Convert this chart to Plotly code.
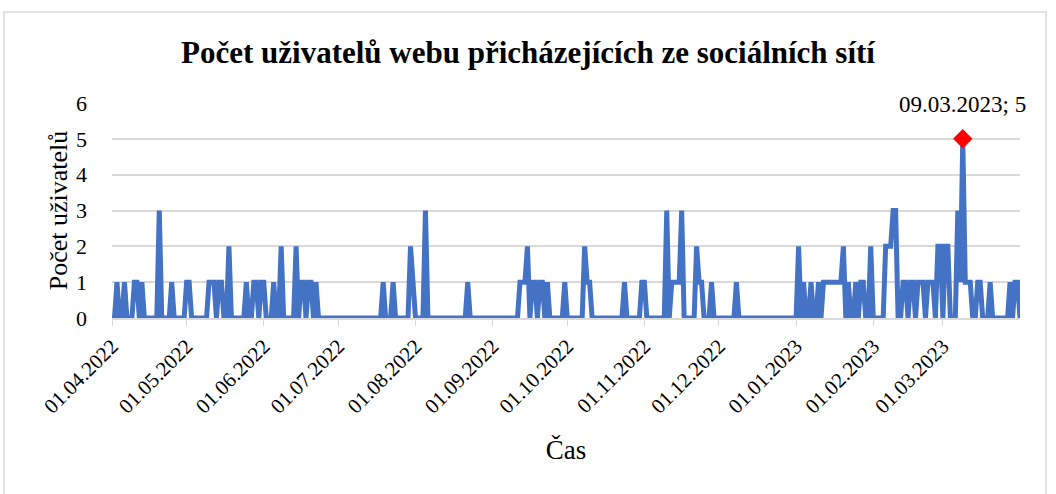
import datetime as dt
import plotly.graph_objects as go

# Non-zero daily values (every other day is 0)
nz_dates = [
    # 2022-04
    "2022-04-03", "2022-04-06", "2022-04-10", "2022-04-11", "2022-04-13", "2022-04-20", "2022-04-25",
    # 2022-05
    "2022-05-01", "2022-05-02", "2022-05-10", "2022-05-11", "2022-05-12", "2022-05-14", "2022-05-15",
    "2022-05-18", "2022-05-25", "2022-05-28", "2022-05-29", "2022-05-31",
    # 2022-06
    "2022-06-01", "2022-06-05", "2022-06-08", "2022-06-14", "2022-06-16", "2022-06-17", "2022-06-19",
    "2022-06-20", "2022-06-22",
    # 2022-07 / 08
    "2022-07-19", "2022-07-23", "2022-07-30", "2022-07-31", "2022-08-05", "2022-08-22",
    # 2022-09
    "2022-09-12", "2022-09-13", "2022-09-14", "2022-09-15", "2022-09-17", "2022-09-18", "2022-09-20",
    "2022-09-21", "2022-09-23", "2022-09-30",
    # 2022-10
    "2022-10-08", "2022-10-09", "2022-10-10", "2022-10-24", "2022-10-31",
    # 2022-11 / 12
    "2022-11-01", "2022-11-10", "2022-11-12", "2022-11-13", "2022-11-14", "2022-11-15", "2022-11-16",
    "2022-11-22", "2022-11-23", "2022-11-24", "2022-11-28", "2022-12-08",
    # 2023-01
    "2023-01-02", "2023-01-04", "2023-01-07", "2023-01-10", "2023-01-12", "2023-01-13", "2023-01-14",
    "2023-01-15", "2023-01-16", "2023-01-17", "2023-01-18", "2023-01-19", "2023-01-20", "2023-01-22",
    "2023-01-25", "2023-01-27", "2023-01-28", "2023-01-31",
    # 2023-02
    "2023-02-06", "2023-02-07", "2023-02-08", "2023-02-09", "2023-02-10", "2023-02-13", "2023-02-14",
    "2023-02-16", "2023-02-17", "2023-02-19", "2023-02-20", "2023-02-21", "2023-02-23", "2023-02-24",
    "2023-02-25", "2023-02-27", "2023-02-28",
    # 2023-03
    "2023-03-02", "2023-03-03", "2023-03-07", "2023-03-08", "2023-03-09", "2023-03-10", "2023-03-11",
    "2023-03-12", "2023-03-15", "2023-03-16", "2023-03-20", "2023-03-28", "2023-03-30", "2023-03-31",
]
nz_values = [
    1, 1, 1, 1, 1, 3, 1,
    1, 1, 1, 1, 1, 1, 1,
    2, 1, 1, 1, 1,
    1, 1, 2, 2, 1, 1, 1,
    1, 1,
    1, 1, 2, 1, 3, 1,
    1, 1, 1, 2, 1, 1, 1,
    1, 1, 1,
    2, 1, 1, 1, 1,
    1, 3, 1, 1, 1, 1, 3,
    2, 1, 1, 1, 1,
    2, 1, 1, 1, 1, 1, 1,
    1, 1, 1, 1, 1, 2, 1,
    1, 1, 1, 2,
    2, 2, 2, 3, 3, 1, 1,
    1, 1, 1, 1, 1, 1, 1,
    1, 2, 2,
    2, 2, 3, 1, 5, 1, 1,
    1, 1, 1, 1, 1, 1, 1,
]

first_day = "2022-04-01"
last_day = "2023-04-01"

lookup = dict(zip(nz_dates, nz_values))
dates, values = [], []
d = dt.date.fromisoformat(first_day)
stop = dt.date.fromisoformat(last_day)
while d <= stop:
    s = d.isoformat()
    dates.append(s)
    values.append(lookup.get(s, 0))
    d += dt.timedelta(days=1)

peak_date = "2023-03-09"
peak_value = 5
peak_label = "09.03.2023; 5"

tick_dates = ["2022-04-01", "2022-05-01", "2022-06-01", "2022-07-01", "2022-08-01",
              "2022-09-01", "2022-10-01", "2022-11-01", "2022-12-01", "2023-01-01",
              "2023-02-01", "2023-03-01"]
tick_labels = ["01.04.2022", "01.05.2022", "01.06.2022", "01.07.2022", "01.08.2022",
               "01.09.2022", "01.10.2022", "01.11.2022", "01.12.2022", "01.01.2023",
               "01.02.2023", "01.03.2023"]
y_ticks = [0, 1, 2, 3, 4, 5, 6]

serif = "Liberation Serif, Times New Roman, serif"

fig = go.Figure()
fig.add_trace(go.Scatter(
    x=dates, y=values, mode="lines",
    line=dict(color="#4472C4", width=5, shape="linear"),
    hoverinfo="x+y", showlegend=False, cliponaxis=False,
))
fig.add_trace(go.Scatter(
    x=[peak_date], y=[peak_value], mode="markers",
    marker=dict(symbol="diamond", color="#FF0000", size=15),
    showlegend=False, cliponaxis=False,
))
fig.add_annotation(x=peak_date, y=peak_value, text=peak_label, showarrow=False,
                   xanchor="center", yanchor="bottom", yshift=20,
                   font=dict(family=serif, size=23, color="#000000"))

fig.update_layout(
    width=1056, height=494,
    paper_bgcolor="white", plot_bgcolor="white",
    margin=dict(l=112, r=36, t=103, b=176, autoexpand=False),
    title=dict(text="<b>Počet uživatelů webu přicházejících ze sociálních sítí</b>",
               x=0.5, xanchor="center", y=0.895, yanchor="middle",
               font=dict(family=serif, size=31, color="#000000")),
    font=dict(family=serif, size=21, color="#000000"),
    xaxis=dict(
        type="date", automargin=False,
        range=[first_day, last_day],
        tickvals=tick_dates, ticktext=tick_labels, tickangle=-45,
        showgrid=False, showline=True, linecolor="#d9d9d9", linewidth=1.5,
        ticks="outside", ticklen=6, tickcolor="#d9d9d9",
        tickfont=dict(family=serif, size=21, color="#000000"),
        title=dict(text="Čas", font=dict(family=serif, size=27, color="#000000"), standoff=23),
        zeroline=False,
    ),
    yaxis=dict(
        automargin=False,
        range=[0, 6], tickvals=y_ticks,
        showgrid=True, gridcolor="#d9d9d9", gridwidth=1.5,
        zeroline=False, showline=False, ticks="",
        tickfont=dict(family=serif, size=22, color="#000000"),
        ticklabelstandoff=24,
        title=dict(text="Počet uživatelů", font=dict(family=serif, size=26, color="#000000"), standoff=0),
    ),
)
fig.add_shape(type="rect", xref="paper", yref="paper",
              x0=-0.119, x1=1.0286, y0=-0.95, y1=1.423,
              line=dict(color="#d9d9d9", width=1.5), fillcolor="rgba(0,0,0,0)", layer="below")

fig.write_html("out.html", config={"displayModeBar": False},
               post_script="document.body.style.margin='0';document.body.style.overflow='hidden';")
